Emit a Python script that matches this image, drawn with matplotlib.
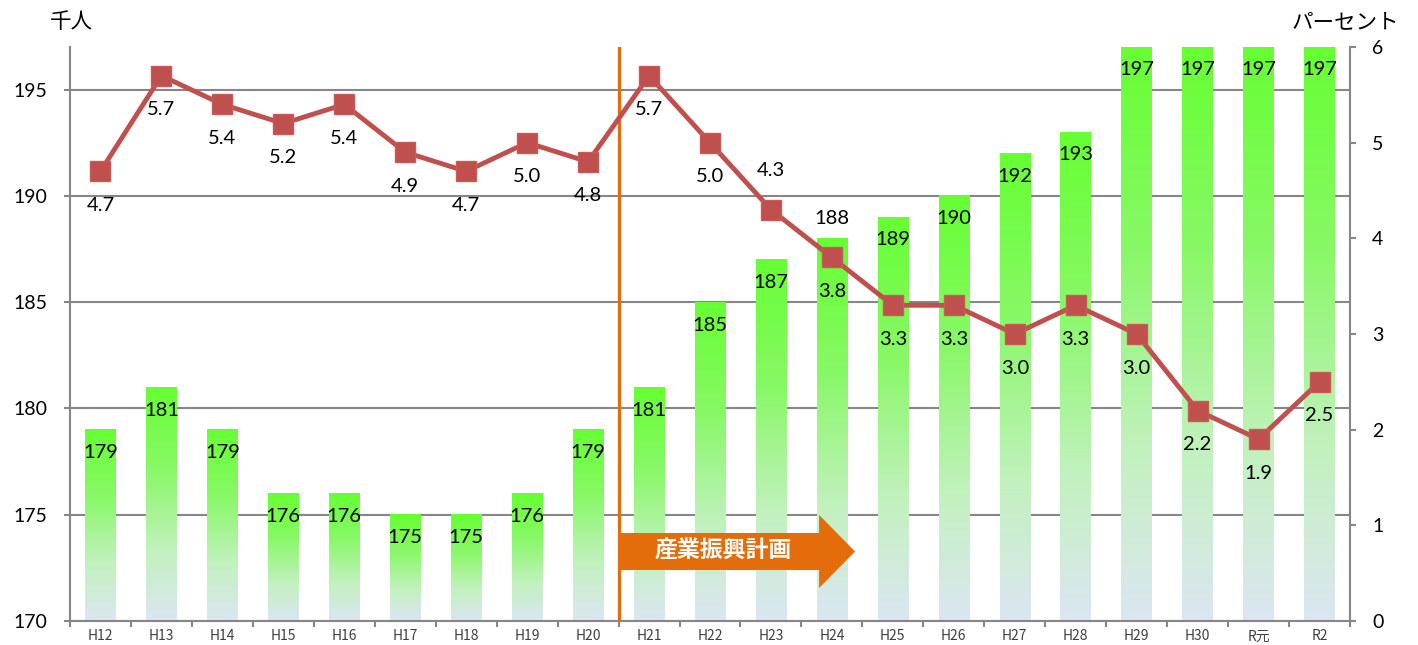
import matplotlib

matplotlib.use("Agg")

import matplotlib.pyplot as plt  # noqa: E402
import numpy as np  # noqa: E402
from matplotlib.colors import LinearSegmentedColormap  # noqa: E402
from matplotlib.patches import Polygon  # noqa: E402

plt.rcParams["font.family"] = ["Lato", "Noto Sans CJK JP", "DejaVu Sans"]

years = ["H12", "H13", "H14", "H15", "H16", "H17", "H18", "H19", "H20", "H21",
         "H22", "H23", "H24", "H25", "H26", "H27", "H28", "H29", "H30", "R元", "R2"]
workers = [179, 181, 179, 176, 176, 175, 175, 176, 179, 181,
           185, 187, 188, 189, 190, 192, 193, 197, 197, 197, 197]
rates = [4.7, 5.7, 5.4, 5.2, 5.4, 4.9, 4.7, 5.0, 4.8, 5.7,
         5.0, 4.3, 3.8, 3.3, 3.3, 3.0, 3.3, 3.0, 2.2, 1.9, 2.5]
left_ticks = [170, 175, 180, 185, 190, 195]
right_ticks = [0, 1, 2, 3, 4, 5, 6]
plan_label = "産業振興計画"
plan_start = "H21"

# labels that sit on the other side of their mark
rate_above = {"H23"}
bar_above = {"H24"}

GRID = "#868686"
LINE = "#C0504D"
ORANGE = "#E46C0A"
YMIN, YMAX = 170, 197

fig = plt.figure(figsize=(14.18, 6.45), dpi=100)
ax = fig.add_axes([70 / 1418, 24 / 645, 1280 / 1418, 574 / 645])

bar_cmap = LinearSegmentedColormap.from_list(
    "bar", [(0.0, "#DCE6F2"), (0.3, "#C2F1BE"), (0.65, "#88F866"), (1.0, "#66FF33")]
)
grad = np.linspace(0, 1, 256).reshape(-1, 1)
x = np.arange(len(years))
for i, v in enumerate(workers):
    ax.imshow(grad, extent=[i - 0.25, i + 0.25, YMIN, v], aspect="auto",
              cmap=bar_cmap, origin="lower", zorder=2, interpolation="bilinear")
    if years[i] in bar_above:
        off = 14
    else:
        off = -16.5
    ax.annotate(str(v), (i, v), xytext=(0, off), textcoords="offset points",
                ha="center", va="center", fontsize=14.5, color="black", zorder=3)

ax.set_xlim(-0.5, len(years) - 0.5)
ax.set_ylim(YMIN, YMAX)
ax.set_yticks(left_ticks)
ax.set_xticks(x)
ax.set_xticklabels(years, fontsize=10, color="#404040",
                   family=["Noto Sans CJK JP", "DejaVu Sans"])
ax.set_xticks(np.arange(-0.5, len(years)), minor=True)
ax.tick_params(axis="x", which="major", length=0, pad=6)
ax.tick_params(axis="x", which="minor", length=4, width=1.5, color=GRID)
ax.tick_params(axis="y", length=4, width=1.5, color=GRID, pad=12,
               labelsize=14)
ax.grid(axis="y", color=GRID, linewidth=1.5, zorder=1)
ax.set_axisbelow(True)
for side in ["top", "right"]:
    ax.spines[side].set_visible(False)
for side in ["left", "bottom"]:
    ax.spines[side].set_color(GRID)
    ax.spines[side].set_linewidth(1.5)

ax2 = ax.twinx()
ax2.plot(x, rates, color=LINE, linewidth=3.5, marker="s", markersize=14,
         markerfacecolor=LINE, markeredgecolor="#C95A57", zorder=3)
for i, r in enumerate(rates):
    off = 28 if years[i] in rate_above else -24.5
    ax2.annotate(f"{r:.1f}", (i, r), xytext=(0, off), textcoords="offset points",
                 ha="center", va="center", fontsize=14.5, color="black")
ax2.set_ylim(0, 6)
ax2.set_yticks(right_ticks)
ax2.tick_params(axis="y", length=4, width=1.5, color=GRID, pad=12,
                labelsize=14)
ax2.spines["top"].set_visible(False)
ax2.spines["left"].set_visible(False)
ax2.spines["bottom"].set_visible(False)
ax2.spines["right"].set_color(GRID)
ax2.spines["right"].set_linewidth(1.5)

# start of the industry plan: divider and arrow (left-axis units)
start = years.index(plan_start) - 0.5
ax.axvline(start, color=ORANGE, linewidth=2.3, zorder=6)
body_end, tip = start + 3.29, start + 3.88
arrow = Polygon(
    [(start, 174.14), (body_end, 174.14), (body_end, 174.99), (tip, 173.27),
     (body_end, 171.55), (body_end, 172.40), (start, 172.40)],
    closed=True, facecolor=ORANGE, edgecolor="none", zorder=5,
)
ax.add_patch(arrow)
ax.text(start + 1.72, 173.27, plan_label, ha="center", va="center",
        fontsize=16.5, fontweight="bold", color="white", zorder=6,
        family=["Noto Sans CJK JP"])
ax.set_zorder(ax2.get_zorder())

fig.text(71 / 1418, 1 - 22 / 645, "千人", ha="center", va="center",
         fontsize=15.5, family=["Noto Sans CJK JP"])
fig.text(1345 / 1418, 1 - 22 / 645, "パーセント", ha="center", va="center",
         fontsize=15.5, family=["Noto Sans CJK JP"])

fig.savefig("out.png", dpi=100)
